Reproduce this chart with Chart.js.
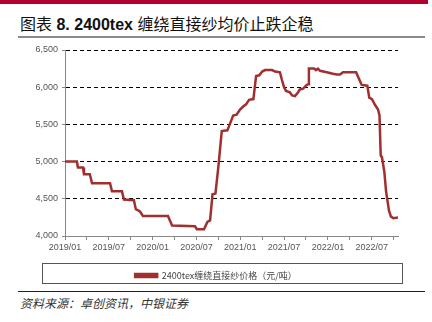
<!DOCTYPE html>
<html>
<head>
<meta charset="utf-8">
<script src="https://cdn.jsdelivr.net/npm/chart.js@4"></script>
<style>
  html, body { margin: 0; padding: 0; background: #fff; }
  body { width: 432px; height: 322px; position: relative; overflow: hidden; font-family: "Liberation Sans", Arial, sans-serif; }
  .topbar { position: absolute; left: 0; top: 0; width: 428px; height: 4px; background: #b3002d; }
  .title { position: absolute; left: 20px; top: 11px; font-family: "Liberation Sans", "Noto Sans CJK SC", sans-serif; font-weight: bold; font-size: 16px; color: #111; white-space: nowrap; }
  .title .cn { font-family: "Noto Sans CJK SC", sans-serif; font-weight: 400; }
  .rule1 { position: absolute; left: 18px; top: 36px; width: 407px; height: 2px; background: #8a8a8a; }
  .rule2 { position: absolute; left: 18px; top: 291px; width: 407px; height: 1px; background: #222; }
  .source { position: absolute; left: 20px; top: 294px; font-family: "Noto Sans CJK SC", sans-serif; font-style: italic; font-size: 12px; color: #333; }
  #wrap { position: absolute; left: 0; top: 40px; width: 432px; height: 250px; }
</style>
</head>
<body>
<div class="topbar"></div>
<div class="title"><span class="cn">图表</span> 8. 2400tex <span class="cn">缠绕直接纱均价止跌企稳</span></div>
<div class="rule1"></div>
<div id="wrap"><canvas id="chart"></canvas></div>
<div class="rule2"></div>
<div class="source">资料来源：卓创资讯，中银证券</div>
<script>
// dates of readings and price (元/吨)
const dates = [
  '2019-01-01', '2019-02-20', '2019-02-24', '2019-03-15', '2019-03-19', '2019-04-13',
  '2019-04-22', '2019-07-06', '2019-07-14', '2019-08-25', '2019-09-03', '2019-10-14',
  '2019-10-22', '2019-11-09', '2019-11-21', '2020-03-04', '2020-03-21', '2020-06-25',
  '2020-07-03', '2020-08-02', '2020-08-16', '2020-08-27', '2020-09-07', '2020-09-19',
  '2020-10-01', '2020-10-15', '2020-11-08', '2020-11-19', '2020-12-02', '2020-12-16',
  '2020-12-30', '2021-01-13', '2021-01-25', '2021-02-07', '2021-02-25', '2021-03-06',
  '2021-03-19', '2021-04-01', '2021-04-13', '2021-05-12', '2021-05-24', '2021-06-14',
  '2021-06-22', '2021-07-01', '2021-07-09', '2021-07-25', '2021-08-04', '2021-08-16',
  '2021-08-28', '2021-09-06', '2021-09-19', '2021-10-04', '2021-10-10', '2021-10-13',
  '2021-11-04', '2021-11-12', '2021-11-20', '2021-11-29', '2021-12-26', '2022-01-22',
  '2022-02-07', '2022-02-21', '2022-03-03', '2022-04-27', '2022-05-05', '2022-05-20',
  '2022-06-13', '2022-06-21', '2022-07-02', '2022-07-15', '2022-07-27', '2022-08-03',
  '2022-08-08', '2022-08-13', '2022-08-23', '2022-08-30', '2022-09-05', '2022-09-12',
  '2022-09-20', '2022-09-30', '2022-10-19'
];
const prices = [
  5000, 5000, 4920, 4920, 4830, 4830,
  4710, 4710, 4600, 4600, 4490, 4480,
  4360, 4330, 4270, 4270, 4140, 4130,
  4090, 4090, 4190, 4210, 4560, 4570,
  4930, 5410, 5420, 5510, 5620, 5630,
  5700, 5740, 5770, 5830, 5840, 6150,
  6160, 6210, 6230, 6230, 6210, 6200,
  6100, 6000, 5950, 5930, 5890, 5880,
  5930, 5970, 5980, 6030, 6040, 6250,
  6250, 6230, 6250, 6220, 6200, 6180,
  6170, 6170, 6200, 6200, 6140, 6030,
  6020, 5860, 5840, 5760, 5700, 5620,
  5080, 5060, 4860, 4600, 4490, 4340,
  4260, 4240, 4250
];
const seriesName = '2400tex缠绕直接纱价格（元/吨）';
const yTicks = [4000, 4500, 5000, 5500, 6000, 6500];

// months since 2019/01
function monthIndex(s) {
  const p = s.split('-').map(Number);
  return (p[0] - 2019) * 12 + (p[1] - 1) + (p[2] - 1) / 30;
}
function monthLabel(m) {
  const y = 2019 + Math.floor(m / 12);
  const mo = (m % 12) + 1;
  return y + '/' + (mo < 10 ? '0' + mo : mo);
}

const points = dates.map((d, i) => ({ x: monthIndex(d), y: prices[i] }));

const legendBox = {
  id: 'legendBox',
  afterDraw(chart) {
    const lg = chart.legend;
    const ctx = chart.ctx;
    ctx.save();
    ctx.strokeStyle = '#555';
    ctx.lineWidth = 1;
    ctx.strokeRect(42.5, Math.round(lg.top) + 2.5, 360, Math.round(lg.bottom - lg.top) - 9);
    ctx.restore();
  }
};

new Chart(document.getElementById('chart').getContext('2d'), {
  type: 'line',
  data: {
    datasets: [{
      label: seriesName,
      data: points,
      borderColor: '#a0302f',
      backgroundColor: '#a0302f',
      borderWidth: 2.5,
      pointRadius: 0,
      tension: 0,
      fill: false
    }]
  },
  options: {
    responsive: true,
    maintainAspectRatio: false,
    animation: false,
    layout: { padding: { top: 10, right: 0, left: 0, bottom: 0 } },
    plugins: {
      tooltip: { enabled: false },
      legend: {
        position: 'bottom',
        labels: {
          boxWidth: 22,
          boxHeight: 3,
          padding: 10,
          color: '#444',
          font: { family: '"Noto Sans CJK SC", "Liberation Sans", sans-serif', size: 9 }
        }
      }
    },
    scales: {
      x: {
        type: 'linear',
        min: 0,
        max: 45.6,
        grid: { drawOnChartArea: false, drawTicks: true, tickLength: 4, tickColor: '#888' },
        border: { color: '#888', width: 1 },
        ticks: {
          stepSize: 3,
          includeBounds: false,
          autoSkip: false,
          maxRotation: 0,
          padding: 2,
          color: '#555',
          font: { family: '"Liberation Sans", Arial, sans-serif', size: 9 },
          callback: v => (v % 6 === 0 ? monthLabel(v) : '')
        },
        afterFit: s => { s.height = 25; }
      },
      y: {
        min: 4000,
        max: 6500,
        afterBuildTicks: s => { s.ticks = yTicks.map(v => ({ value: v })); },
        grid: {
          color: c => (c.tick && c.tick.value === 4000 ? 'rgba(0,0,0,0)' : '#000'),
          lineWidth: 1,
          tickLength: 3,
          tickColor: '#888'
        },
        border: { color: '#888', width: 1, dash: [4, 3] },
        ticks: {
          padding: 4,
          color: '#555',
          font: { family: '"Liberation Sans", Arial, sans-serif', size: 9 },
          callback: v => v.toLocaleString('en-US')
        },
        afterFit: s => { s.width = 65; }
      },
      // empty right-hand margin so the plot stops short of the edge
      yRight: {
        position: 'right',
        display: true,
        grid: { display: false },
        border: { display: false },
        ticks: { display: false },
        afterFit: s => { s.width = 34; }
      }
    }
  },
  plugins: [legendBox]
});
</script>
</body>
</html>
